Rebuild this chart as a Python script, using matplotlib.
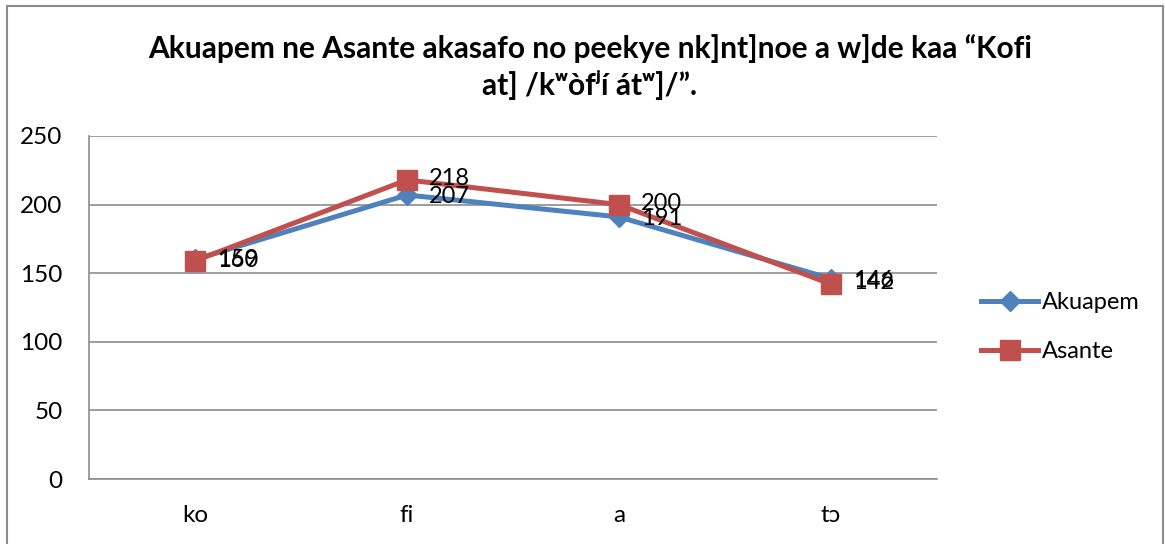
import matplotlib
matplotlib.use("Agg")
import matplotlib.pyplot as plt
from matplotlib.patches import Rectangle

categories = ["ko", "fi", "a", "tɔ"]
akuapem = [160, 207, 191, 146]
asante = [159, 218, 200, 142]
yticks = [0, 50, 100, 150, 200, 250]
title = "Akuapem ne Asante akasafo no peekye nk]nt]noe a w]de kaa \u201cKofi\nat] /k\u02b7\u00f2f\u02b2\u00ed \u00e1t\u02b7]/\u201d."

plt.rcParams['font.family'] = ['Lato', 'DejaVu Sans']

W, H = 1165, 544
fig = plt.figure(figsize=(W / 100, H / 100), dpi=100)
fig.patches.append(Rectangle((7 / W, -0.05), 1156 / W, 1 - 6 / H + 0.05,
                             transform=fig.transFigure, fill=False,
                             edgecolor="#8c8c8c", linewidth=1.5))

ax = fig.add_axes([89 / W, 1 - 479 / H, 848 / W, 343 / H])
x = list(range(len(categories)))
blue = "#4F81BD"
red = "#C0504D"
ax.plot(x, akuapem, color=blue, lw=3.6, marker="D", ms=10, label="Akuapem", zorder=3)
ax.plot(x, asante, color=red, lw=3.6, marker="s", ms=14, label="Asante", zorder=4)

for xi, v in zip(x, akuapem):
    ax.annotate(str(v), (xi, v), xytext=(16, -1), textcoords="offset points",
                ha="left", va="center", fontsize=17, color="black", zorder=5)
for xi, v in zip(x, asante):
    ax.annotate(str(v), (xi, v), xytext=(16, 1), textcoords="offset points",
                ha="left", va="center", fontsize=17, color="black", zorder=5)

ax.set_xlim(-0.5, len(categories) - 0.5)
ax.set_ylim(0, 250)
ax.set_yticks(yticks)
ax.set_yticklabels([str(t) for t in yticks], fontsize=17.5)
ax.set_xticks(x)
ax.set_xticklabels(categories, fontsize=17.5)
ax.tick_params(axis="both", length=0)
ax.tick_params(axis="y", pad=19)
ax.tick_params(axis="x", pad=19)
ax.yaxis.grid(True, color="#8c8c8c", lw=1.2)
ax.set_axisbelow(True)
for s in ["top", "right"]:
    ax.spines[s].set_visible(False)
for s in ["left", "bottom"]:
    ax.spines[s].set_color("#8c8c8c")
    ax.spines[s].set_linewidth(1.2)

fig.text(590 / W, 1 - 67 / H, title, ha="center", va="center", fontsize=21.5,
         fontweight="bold", linespacing=1.3)

ax.legend(loc="center left", bbox_to_anchor=(960 / W, 1 - 327 / H),
          bbox_transform=fig.transFigure, frameon=False, fontsize=17,
          handlelength=2.4, labelspacing=1.2, handletextpad=0.15)

fig.savefig("out.png", dpi=100)
